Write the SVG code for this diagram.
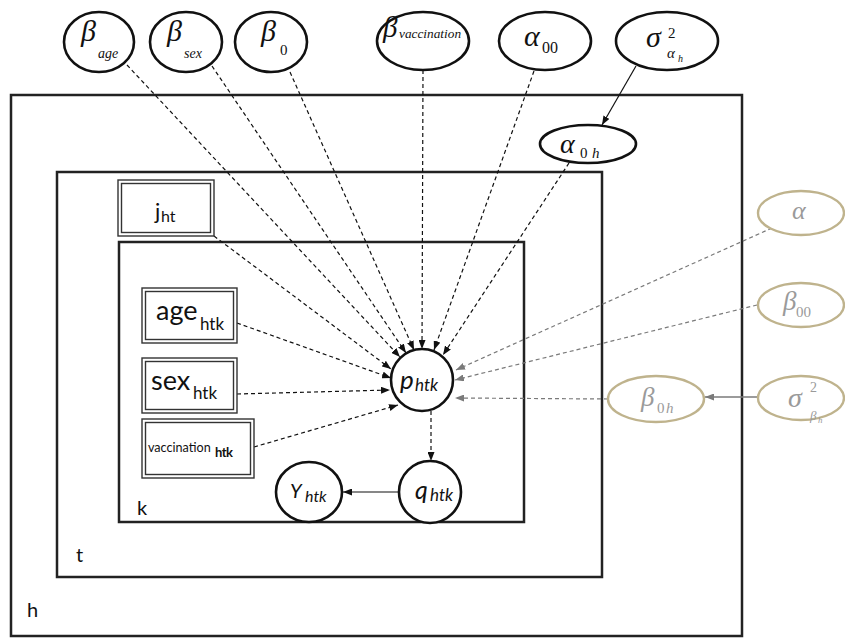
<svg xmlns="http://www.w3.org/2000/svg" width="845" height="639" viewBox="0 0 845 639">
<defs>
<style>
.plate{fill:none;stroke:#222;stroke-width:2.5}
.nd{fill:#fff;stroke:#111;stroke-width:2.6}
.gnd{fill:#fff;stroke:#bfb38d;stroke-width:2.4}
.bx{fill:#fff;stroke:#333;stroke-width:1.4}
.gk{font-family:"Liberation Serif",serif;font-style:italic;fill:#111}
.gr{font-family:"Liberation Serif",serif;fill:#111}
.gg{fill:#9a9a9a}
.lb{font-family:Lato,"Open Sans",sans-serif;fill:#111}
.li{font-family:Lato,"Open Sans",sans-serif;font-style:italic;fill:#111}
.d{fill:none;stroke:#111;stroke-width:1.2;stroke-dasharray:4 3}
.dg{fill:none;stroke:#7a7a7a;stroke-width:1.2;stroke-dasharray:4 3}
.s{fill:none;stroke:#111;stroke-width:1.2}
.sg{fill:none;stroke:#7a7a7a;stroke-width:1.3}
</style>
<marker id="ab" markerWidth="9" markerHeight="7" refX="9" refY="3.5" orient="auto" markerUnits="userSpaceOnUse"><path d="M0,0 L9,3.5 L0,7 z" fill="#111"/></marker>
<marker id="ag" markerWidth="9" markerHeight="7" refX="9" refY="3.5" orient="auto" markerUnits="userSpaceOnUse"><path d="M0,0 L9,3.5 L0,7 z" fill="#7a7a7a"/></marker>
</defs>
<rect width="845" height="639" fill="#fff"/>

<g id="plates">
<rect class="plate" x="11" y="95" width="731" height="541"/>
<rect class="plate" x="57" y="172" width="545" height="405"/>
<rect class="plate" x="119" y="242" width="405" height="280"/>
<text class="lb" x="137" y="515" font-size="20">k</text>
<text class="lb" x="76" y="562" font-size="20">t</text>
<text class="lb" x="27" y="617" font-size="20">h</text>
</g>

<g id="connectors">
<line class="d" x1="127" y1="65" x2="400" y2="357" marker-end="url(#ab)"/>
<line class="d" x1="212" y1="66" x2="406" y2="353" marker-end="url(#ab)"/>
<line class="d" x1="290" y1="72" x2="414" y2="350" marker-end="url(#ab)"/>
<line class="d" x1="423" y1="70" x2="422" y2="349" marker-end="url(#ab)"/>
<line class="d" x1="534" y1="71" x2="434" y2="350" marker-end="url(#ab)"/>
<line class="s" x1="636" y1="66" x2="602" y2="125" marker-end="url(#ab)"/>
<line class="d" x1="569" y1="163" x2="443" y2="355" marker-end="url(#ab)"/>
<line class="d" x1="214" y1="236" x2="391" y2="369" marker-end="url(#ab)"/>
<line class="d" x1="237" y1="323" x2="391" y2="378" marker-end="url(#ab)"/>
<line class="d" x1="237" y1="394" x2="390" y2="390" marker-end="url(#ab)"/>
<line class="d" x1="254" y1="447" x2="398" y2="405" marker-end="url(#ab)"/>
<line class="dg" x1="772" y1="228" x2="456" y2="370" marker-end="url(#ag)"/>
<line class="dg" x1="757" y1="305" x2="455" y2="380" marker-end="url(#ag)"/>
<line class="dg" x1="608" y1="399" x2="455" y2="398" marker-end="url(#ag)"/>
<line class="sg" x1="757" y1="397" x2="705" y2="397" marker-end="url(#ag)"/>
<line class="d" x1="431" y1="411" x2="431" y2="461" marker-end="url(#ab)"/>
<line class="s" x1="399" y1="492" x2="343" y2="492" marker-end="url(#ab)"/>
</g>

<g id="beta_age"><ellipse class="nd" cx="99" cy="42" rx="35" ry="30"/><text class="gk" x="81" y="41" font-size="30">β</text><text class="gk" x="98" y="58" font-size="14">age</text></g>
<g id="beta_sex"><ellipse class="nd" cx="186" cy="42" rx="36" ry="30"/><text class="gk" x="167" y="41" font-size="30">β</text><text class="gk" x="184" y="58" font-size="14">sex</text></g>
<g id="beta_0"><ellipse class="nd" cx="271" cy="42" rx="36" ry="30"/><text class="gk" x="261" y="41" font-size="30">β</text><text class="gr" x="280" y="55" font-size="15">0</text></g>
<g id="beta_vacc"><ellipse class="nd" cx="423" cy="41" rx="46" ry="29"/><text class="gk" x="383" y="37" font-size="29">β</text><text class="gk" x="399" y="38" font-size="13.3">vaccination</text></g>
<g id="alpha_00"><ellipse class="nd" cx="545" cy="41" rx="46" ry="29"/><text class="gk" x="524" y="46" font-size="30">α</text><text class="gr" x="542" y="53" font-size="16">00</text></g>
<g id="sigma_ah"><ellipse class="nd" cx="667" cy="41" rx="51" ry="29"/><text class="gk" x="646" y="47" font-size="30">σ</text><text class="gr" x="668" y="38" font-size="15">2</text><text class="gk" x="667" y="58" font-size="15">α</text><text class="gk" x="678" y="62" font-size="10">h</text></g>
<g id="alpha_0h"><ellipse class="nd" cx="588" cy="144" rx="48" ry="19"/><text class="gk" x="560" y="153" font-size="28">α</text><text class="gr" x="580" y="158" font-size="15">0</text><text class="gk" x="592" y="158" font-size="15">h</text></g>

<g id="alpha"><ellipse class="gnd" cx="801" cy="213" rx="43" ry="22"/><text class="gk gg" x="792" y="219" font-size="26">α</text></g>
<g id="beta_00"><ellipse class="gnd" cx="801" cy="305" rx="43" ry="22"/><text class="gk gg" x="783" y="310" font-size="27">β</text><text class="gr gg" x="796" y="317" font-size="15">00</text></g>
<g id="sigma_bh"><ellipse class="gnd" cx="801" cy="398" rx="43" ry="22"/><text class="gk gg" x="788" y="407" font-size="28">σ</text><text class="gr gg" x="810" y="392" font-size="14">2</text><text class="gk gg" x="810" y="420" font-size="13">β</text><text class="gk gg" x="818" y="423" font-size="9">h</text></g>
<g id="beta_0h"><ellipse class="gnd" cx="656" cy="399" rx="48" ry="23"/><text class="gk gg" x="641" y="406" font-size="27">β</text><text class="gr gg" x="657" y="413" font-size="15">0</text><text class="gk gg" x="666" y="413" font-size="15">h</text></g>

<g id="j_ht"><rect class="bx" x="118" y="180" width="96" height="56"/><rect class="bx" x="121.5" y="183.5" width="89" height="49"/><text class="lb" x="155" y="219" font-size="22">j</text><text class="lb" x="161" y="222" font-size="16">ht</text></g>
<g id="age_htk"><rect class="bx" x="142" y="288" width="95" height="55"/><rect class="bx" x="145.5" y="291.5" width="88" height="48"/><text class="lb" x="156" y="320" font-size="27">age</text><text class="lb" x="200" y="330" font-size="17">htk</text></g>
<g id="sex_htk"><rect class="bx" x="142" y="358" width="95" height="55"/><rect class="bx" x="145.5" y="361.5" width="88" height="48"/><text class="lb" x="151" y="390" font-size="27">sex</text><text class="lb" x="193" y="399" font-size="17">htk</text></g>
<g id="vacc_htk"><rect class="bx" x="142" y="419" width="112" height="59"/><rect class="bx" x="145.5" y="422.5" width="105" height="52"/><text class="lb" x="148" y="452" font-size="12.6">vaccination</text><text class="lb" x="215" y="457" font-size="13" font-weight="bold" letter-spacing="-0.6">htk</text></g>

<g id="p_htk"><circle class="nd" cx="422" cy="380" r="31"/><text class="li" x="400" y="389" font-size="26">p</text><text class="li" x="415" y="391" font-size="17">htk</text></g>
<g id="q_htk"><circle class="nd" cx="430" cy="492" r="31"/><text class="li" x="415" y="499" font-size="25">q</text><text class="li" x="430" y="501" font-size="17">htk</text></g>
<g id="Y_htk"><ellipse class="nd" cx="309" cy="492" rx="33" ry="30"/><text class="li" x="290" y="498" font-size="20">Y</text><text class="li" x="305" y="502" font-size="16">htk</text></g>
</svg>
